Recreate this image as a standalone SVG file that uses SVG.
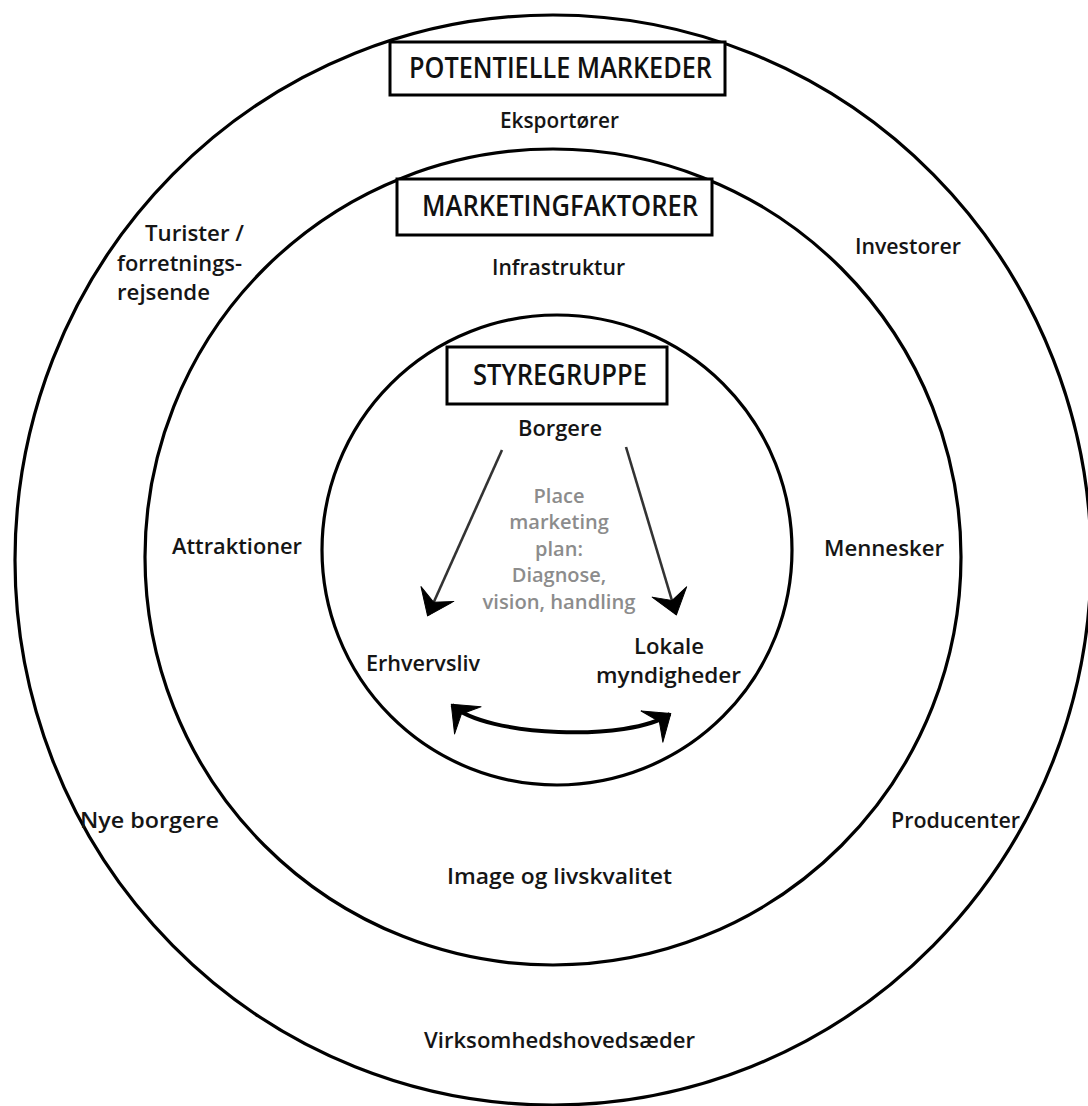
<svg xmlns="http://www.w3.org/2000/svg" width="1088" height="1106" viewBox="0 0 1088 1106">
<style>
.ring{fill:none;stroke:#000;stroke-width:3.2}
.box{fill:#fff;stroke:#000;stroke-width:3}
.title{font-family:"Open Sans","Liberation Sans",sans-serif;font-weight:600;font-size:28px;fill:#111}
.lbl{font-family:"Open Sans","Liberation Sans",sans-serif;font-weight:600;font-size:21px;fill:#151515}
.gray{font-family:"Open Sans","Liberation Sans",sans-serif;font-weight:600;font-size:20px;fill:#8c8c8c;text-anchor:middle}
.thin{fill:none;stroke:#333;stroke-width:2.6}
.thick{fill:none;stroke:#000;stroke-width:4}
</style>
<defs>
<marker id="head" markerUnits="userSpaceOnUse" markerWidth="30" markerHeight="44" viewBox="-26 -22 30 44" refX="0" refY="0" orient="auto">
<path d="M1,0 L-23,-18 L-14,0 L-23,18 Z" fill="#000" stroke="#000" stroke-width="1" stroke-linejoin="round"/>
</marker>
<marker id="head2" markerUnits="userSpaceOnUse" markerWidth="30" markerHeight="46" viewBox="-26 -23 30 46" refX="0" refY="0" orient="auto-start-reverse">
<path d="M1,0 L-22,-19 L-13,0 L-22,19 Z" fill="#000" stroke="#000" stroke-width="1" stroke-linejoin="round"/>
</marker>
</defs>
<rect width="1088" height="1106" fill="#fff"/>

<g id="rings">
<ellipse id="outer-ring" class="ring" cx="553" cy="560" rx="538" ry="545"/>
<circle id="middle-ring" class="ring" cx="553" cy="557" r="408"/>
<circle id="inner-ring" class="ring" cx="557" cy="550" r="235"/>
</g>

<g id="connectors">
<path class="thin" d="M502,450 L428,615" marker-end="url(#head)"/>
<path class="thin" d="M626,447 L676,614" marker-end="url(#head)"/>
<path class="thick" d="M452,705 C485,737 630,742 670,714" marker-start="url(#head2)" marker-end="url(#head2)"/>
</g>

<g id="potentielle-markeder">
<rect class="box" x="390" y="42" width="335" height="53"/>
<text class="title" x="409" y="78" textLength="303" lengthAdjust="spacingAndGlyphs">POTENTIELLE MARKEDER</text>
</g>
<g id="marketingfaktorer">
<rect class="box" x="397" y="179" width="315" height="56"/>
<text class="title" x="422" y="216" textLength="276" lengthAdjust="spacingAndGlyphs">MARKETINGFAKTORER</text>
</g>
<g id="styregruppe">
<rect class="box" x="447" y="347" width="220" height="57"/>
<text class="title" x="473" y="385" textLength="174" lengthAdjust="spacingAndGlyphs">STYREGRUPPE</text>
</g>

<g id="eksportoerer"><text class="lbl" x="500" y="128" textLength="119" lengthAdjust="spacingAndGlyphs">Eksportører</text></g>
<g id="turister">
<text class="lbl" x="145" y="241" textLength="99" lengthAdjust="spacingAndGlyphs">Turister /</text>
<text class="lbl" x="117" y="271" textLength="125" lengthAdjust="spacingAndGlyphs">forretnings-</text>
<text class="lbl" x="117" y="300" textLength="93" lengthAdjust="spacingAndGlyphs">rejsende</text>
</g>
<g id="investorer"><text class="lbl" x="855" y="254" textLength="106" lengthAdjust="spacingAndGlyphs">Investorer</text></g>
<g id="infrastruktur"><text class="lbl" x="492" y="275" textLength="133" lengthAdjust="spacingAndGlyphs">Infrastruktur</text></g>
<g id="borgere"><text class="lbl" x="518" y="436" textLength="84" lengthAdjust="spacingAndGlyphs">Borgere</text></g>
<g id="attraktioner"><text class="lbl" x="172" y="554" textLength="130" lengthAdjust="spacingAndGlyphs">Attraktioner</text></g>
<g id="mennesker"><text class="lbl" x="824" y="556" textLength="120" lengthAdjust="spacingAndGlyphs">Mennesker</text></g>
<g id="place-marketing-plan">
<text class="gray" x="559" y="503">Place</text>
<text class="gray" x="559" y="529">marketing</text>
<text class="gray" x="559" y="556">plan:</text>
<text class="gray" x="559" y="582">Diagnose,</text>
<text class="gray" x="559" y="609" textLength="153" lengthAdjust="spacingAndGlyphs">vision, handling</text>
</g>
<g id="erhvervsliv"><text class="lbl" x="366" y="671" textLength="114" lengthAdjust="spacingAndGlyphs">Erhvervsliv</text></g>
<g id="lokale-myndigheder">
<text class="lbl" x="634" y="654" textLength="70" lengthAdjust="spacingAndGlyphs">Lokale</text>
<text class="lbl" x="596" y="683" textLength="145" lengthAdjust="spacingAndGlyphs">myndigheder</text>
</g>
<g id="nye-borgere"><text class="lbl" x="80" y="828" textLength="139" lengthAdjust="spacingAndGlyphs">Nye borgere</text></g>
<g id="producenter"><text class="lbl" x="891" y="828" textLength="129" lengthAdjust="spacingAndGlyphs">Producenter</text></g>
<g id="image-og-livskvalitet"><text class="lbl" x="447" y="884" textLength="225" lengthAdjust="spacingAndGlyphs">Image og livskvalitet</text></g>
<g id="virksomhedshovedsaeder"><text class="lbl" x="424" y="1048" textLength="271" lengthAdjust="spacingAndGlyphs">Virksomhedshovedsæder</text></g>
</svg>
